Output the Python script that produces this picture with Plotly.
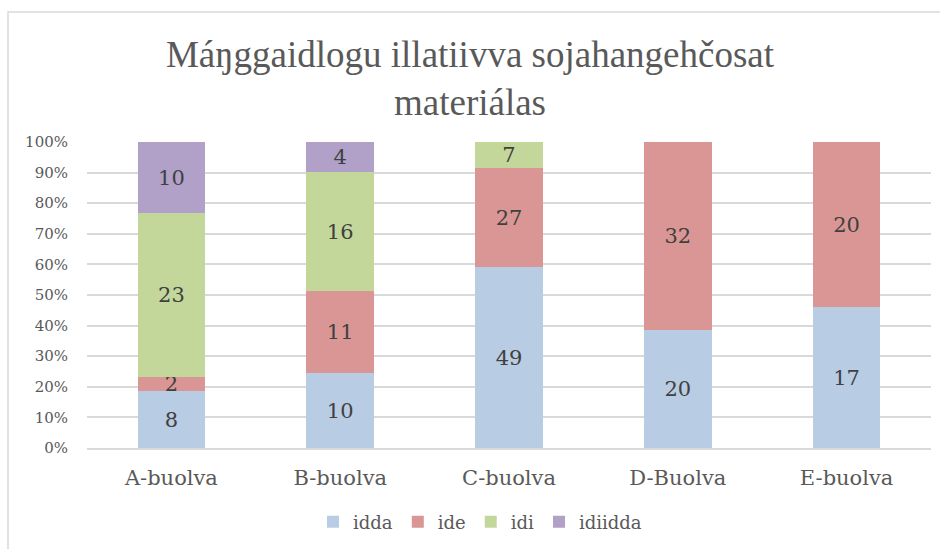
import plotly.graph_objects as go

categories = ["A-buolva", "B-buolva", "C-buolva", "D-Buolva", "E-buolva"]
idda = [8, 10, 49, 20, 17]
ide = [2, 11, 27, 32, 20]
idi = [23, 16, 7, None, None]
idiidda = [10, 4, None, None, None]
y_ticks = [0, 10, 20, 30, 40, 50, 60, 70, 80, 90, 100]
y_tick_labels = [f"{v}%" for v in y_ticks]

series = [("idda", idda, "#B8CCE4"), ("ide", ide, "#DA9694"),
          ("idi", idi, "#C4D79B"), ("idiidda", idiidda, "#B1A0C7")]

SERIF = "DejaVu Serif"
TITLE_FONT = "Liberation Serif"
fig = go.Figure()
for name, vals, col in series:
    fig.add_trace(go.Bar(
        x=categories, y=vals, name=name, marker=dict(color=col, line=dict(width=0)),
        text=[("" if v is None else str(v)) for v in vals], textposition="inside",
        insidetextanchor="middle", textangle=0, constraintext="none",
        textfont=dict(family=SERIF, size=21, color="#404040"), width=0.4,
    ))

W, H = 940, 549
L, R, T, B = 87, 9, 142, 101
pw, ph = W - L - R, H - T - B

fig.update_layout(
    width=W, height=H, barmode="stack", barnorm="percent",
    margin=dict(l=L, r=R, t=T, b=B),
    paper_bgcolor="white", plot_bgcolor="white",
    font=dict(family=SERIF, color="#595959"),
    title=dict(text="Máŋggaidlogu illatiivva sojahangehčosat<br>materiálas",
               x=0.5, xref="container", xanchor="center",
               y=1 - 67 / H, yref="container", yanchor="top",
               font=dict(family=TITLE_FONT, size=37, color="#595959")),
    xaxis=dict(showgrid=False, showline=True, linecolor="#D9D9D9", linewidth=1.5,
               ticks="", tickfont=dict(family=SERIF, size=21, color="#595959"),
               ticklabelstandoff=10),
    yaxis=dict(range=[0, 100], tickmode="array", tickvals=y_ticks, ticktext=y_tick_labels,
               showgrid=True, gridcolor="#D9D9D9", gridwidth=1.5, zeroline=False,
               showline=False, tickfont=dict(family=SERIF, size=15, color="#595959"),
               ticklabelstandoff=18),
    legend=dict(orientation="h", xref="container", yref="container",
                x=480 / W, xanchor="center", y=1 - 522 / H, yanchor="middle",
                font=dict(family=SERIF, size=18, color="#595959"), traceorder="normal",
                itemwidth=30),
    showlegend=True,
    shapes=[dict(type="rect", xref="paper", yref="paper",
                 x0=(8 - L) / pw, x1=(960 - L) / pw,
                 y0=(H - B - 570) / ph, y1=(H - B - 12) / ph,
                 line=dict(color="#D9D9D9", width=1.5), fillcolor="rgba(0,0,0,0)",
                 layer="below")],
)
fig.write_html("out.html", config={"displayModeBar": False},
               post_script="document.body.style.margin='0';")
